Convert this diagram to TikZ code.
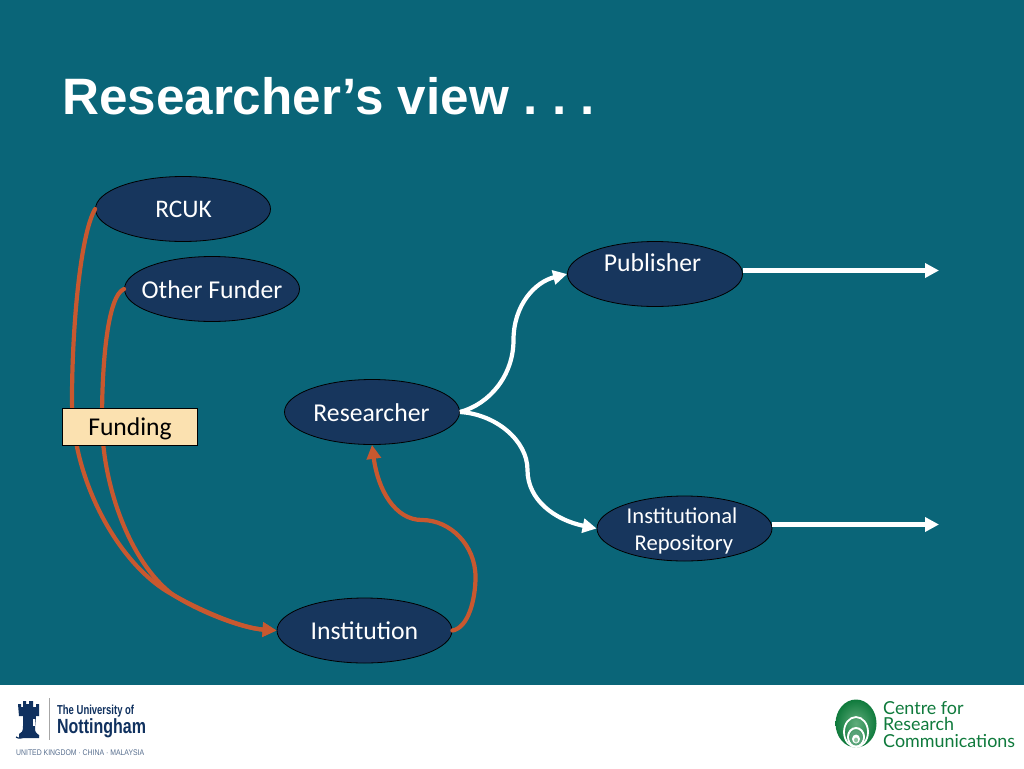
\documentclass[tikz,border=0pt]{standalone}
\usepackage{fontspec}
\setmainfont{Carlito}
\newfontfamily\titlefont{Liberation Sans}
\newfontfamily\logofont{Liberation Sans}
\newfontfamily\crcfont{Lato}
\usetikzlibrary{shapes.geometric,arrows.meta,calc}
\definecolor{bgteal}{HTML}{0A6578}
\definecolor{navyfill}{HTML}{17365D}
\definecolor{rust}{HTML}{C8582F}
\definecolor{cream}{HTML}{FBE1B0}
\definecolor{nott}{HTML}{10315F}
\definecolor{crcgreen}{HTML}{1E8A44}
\definecolor{crcdark}{HTML}{0F7A3C}
\tikzset{
  oval/.style={ellipse,draw=black,line width=0.8pt,fill=navyfill,minimum width=175pt,minimum height=65pt,inner sep=0pt},
  ovaltext/.style={text=white,font=\fontsize{25.7}{27}\selectfont,align=center,inner sep=0pt},
  rustarrow/.style={draw=rust,line width=4.2pt,line cap=round,-{Triangle[length=14pt,width=14pt]}},
  whiteline/.style={draw=white,line width=4.2pt,-{Triangle[length=14pt,width=14pt]}},
  crctext/.style={anchor=base west,inner sep=0pt,text=crcdark,font=\crcfont\fontsize{17.9}{20}\selectfont}
}
\begin{document}
\begin{tikzpicture}[x=1pt,y=-1pt]
\useasboundingbox (0,0) rectangle (1024,768);
\fill[bgteal] (0,0) rectangle (1024,685);
\fill[white] (0,685) rectangle (1024,768);
\node[anchor=base west,inner sep=0pt,text=white,font=\titlefont\bfseries\fontsize{51.2}{56}\selectfont] (title) at (62,114) {Researcher’s view\kern 15pt.\kern 14.2pt.\kern 14.2pt.};

% ovals
\node[oval] (rcuk) at (183,209) {};
\node[oval] (other) at (212,289) {};
\node[oval] (publisher) at (655,274) {};
\node[oval] (researcher) at (372,412) {};
\node[oval] (institution) at (364.5,630.5) {};
\node[oval] (repository) at (684.5,528.5) {};
\node[ovaltext,font=\fontsize{25.3}{27}\selectfont] (trcuk) at (183.5,209.5) {RCUK};
\node[ovaltext] (tother) at (212,289.5) {Other Funder};
\node[ovaltext] (tpub) at (652.5,263) {Publisher};
\node[ovaltext] (tres) at (371.5,412.5) {Researcher};
\node[ovaltext] (tinst) at (364.5,631) {Institution};
\node[ovaltext,font=\fontsize{22.6}{27}\selectfont] (trep) at (682,530.5) {Institutional\\[0pt]\,Repository};

% free ends
\coordinate (pubout) at (939,270.5);
\coordinate (repout) at (939,524.5);
\coordinate (pubstart) at (743,270.5);
\coordinate (repstart) at (772,524.5);

% funding curves
\draw[rustarrow] (rcuk.west) .. controls (80,235) and (72,330) .. (72,400)
  .. controls (72,480) and (118,562) .. (168,592)
  .. controls (195,608) and (240,628) .. (institution.west);
\draw[rustarrow] (other.west) .. controls (108,295) and (102,360) .. (102,420)
  .. controls (102,485) and (130,562) .. (172,594)
  .. controls (196,610) and (240,628) .. (institution.west);

% institution to researcher
\draw[rustarrow] (institution.east) .. controls (468,628) and (475.5,600) .. (475.5,577)
  .. controls (475.5,545) and (450,520) .. (422,520)
  .. controls (395,520) and (378,490) .. (researcher.south);

% researcher outputs
\draw[whiteline] (researcher.east) .. controls (490,404) and (513.5,375) .. (513.5,340)
  .. controls (513.5,305) and (535,282) .. (publisher.west);
\draw[whiteline] (researcher.east) .. controls (495,414) and (527.5,440) .. (527.5,470)
  .. controls (527.5,500) and (555,520) .. (repository.west);
\draw[whiteline] (pubstart) -- (pubout);
\draw[whiteline] (repstart) -- (repout);

% funding box
\node[draw=black,line width=0.8pt,fill=cream,minimum width=135pt,minimum height=36.5pt,inner sep=0pt] (funding) at (130,427) {};
\node[inner sep=0pt,text=black,font=\fontsize{25.6}{27}\selectfont] (tfunding) at (130,429) {Funding};

% Nottingham logo
\fill[nott] (19,738) -- (19,734) .. controls (22,733) and (23,731) .. (23,726) -- (23,716) -- (19,716) -- (18,704) -- (21,704) -- (21,707) -- (23,707) -- (23,701) -- (26,701) -- (26,704) -- (29,704) -- (29,701) -- (33,701) -- (33,707) -- (36,707) -- (36,704) -- (39,704) -- (39,716) -- (36,716) -- (35,728) .. controls (35,732) and (36,733) .. (39,735) -- (39,738) -- cycle;
\fill[white] (33,719) rectangle (34.5,726);
\draw[nott,line width=1.2pt] (16,737) .. controls (22,741) and (26,733) .. (39,736);
\draw[black!35,line width=1pt] (49,698) -- (49,740);
\node[anchor=base west,inner sep=0pt,text=nott,font=\logofont\bfseries\fontsize{13}{14}\selectfont,xscale=0.73] (uni) at (57,714) {The University of};
\node[anchor=base west,inner sep=0pt,text=nott,font=\logofont\bfseries\fontsize{20.5}{22}\selectfont,xscale=0.78] (nottm) at (57,733) {Nottingham};
\node[anchor=base west,inner sep=0pt,text=nott!70,font=\logofont\fontsize{8.2}{9}\selectfont,xscale=0.84] (ukcm) at (16,755) {UNITED KINGDOM · CHINA · MALAYSIA};

% CRC logo
\shade[inner color=crcgreen!70,outer color=crcdark] (856,723.5) ellipse (20.5pt and 24pt);
\draw[white,line width=1.8pt] (856,732) ellipse (12pt and 15pt);
\draw[white,line width=2pt] (856,737) ellipse (8pt and 9pt);
\fill[crcdark!70] (856,738) ellipse (6.5pt and 7.5pt);
\fill[white] (856,739) ellipse (4pt and 4.5pt);
\fill[crcgreen!50] (856,740) ellipse (2pt and 2.5pt);
\node[crctext] (c1) at (883,714) {Centre for};
\node[crctext] (c2) at (883,730.5) {Research};
\node[crctext] (c3) at (883,747) {Communications};
\end{tikzpicture}
\end{document}
